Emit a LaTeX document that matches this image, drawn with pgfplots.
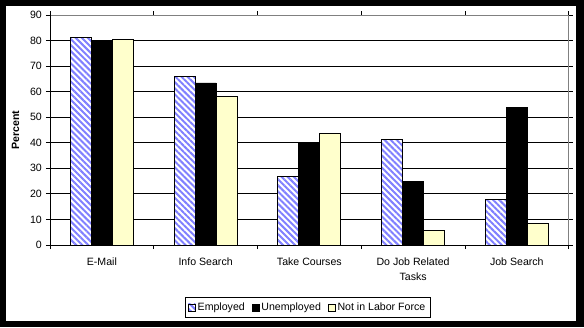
\documentclass[border=0pt]{standalone}
\usepackage{pgfplots}
\pgfplotsset{compat=1.18}
\usetikzlibrary{patterns.meta}
\usepackage{fontspec}
\setmainfont{Liberation Sans}
\definecolor{hatchblue}{RGB}{128,128,255}
\definecolor{paleyellow}{RGB}{255,255,204}
\definecolor{boxgray}{RGB}{128,128,128}
\begin{document}
\fontsize{10.6bp}{12bp}\selectfont
\begin{tikzpicture}[x=1bp,y=1bp]
\fill[black] (-50,245) rectangle (534,-82);
\fill[white] (-44,239) rectangle (526,-76);
\useasboundingbox (-50,245) rectangle (534,-82);
\begin{axis}[
  at={(0,0)}, anchor=south west,
  width=518.7bp, height=230bp, scale only axis,
  xmin=-0.5, xmax=4.5, ymin=0, ymax=90,
  clip=false,
  ybar=0pt, bar width=21bp,
  xtick={0,...,4},
  xticklabels={E-Mail, Info Search, Take Courses, {Do Job Related\\Tasks}, Job Search},
  major x tick style={draw=none},
  minor xtick={-0.5,0.5,...,4.5},
  ytick={0,10,...,90},
  ymajorgrids, major grid style={black, line width=0.8bp},
  tick align=outside, major tick length=4bp, minor tick length=4bp,
  every tick/.style={black, line width=0.8bp},
  axis line style={draw=none},
  xticklabel style={anchor=north, inner sep=0pt, yshift=-8.5bp, align=center, font=\fontsize{10.6bp}{15bp}\selectfont},
  yticklabel style={anchor=east, inner sep=0pt, xshift=-4bp, font=\fontsize{10.6bp}{12bp}\selectfont},
  /pgf/number format/assume math mode=true,
  ylabel={Percent},
  every axis y label/.style={at={(axis description cs:-0.0665,0.5)}, rotate=90, anchor=center, font=\fontsize{10.6bp}{12bp}\selectfont\bfseries},
  legend columns=3,
  legend style={at={(axis description cs:0.4968,-0.2717)}, anchor=center, draw=black, line width=0.8bp,
    font=\fontsize{10.6bp}{12bp}\selectfont, inner xsep=3bp, inner ysep=3.5bp,
    /tikz/every even column/.append style={column sep=5bp}},
  legend image code/.code={\draw[#1, line width=0.6bp] (0bp,-3.5bp) rectangle (7bp,3.5bp);},
]
\addplot[draw=black, line width=0.8bp, preaction={fill=white},
  pattern={Lines[angle=-45,distance=4.3bp,line width=2bp]}, pattern color=hatchblue]
  coordinates {(0,81.3) (1,66.0) (2,27.0) (3,41.3) (4,17.9)};
\addlegendentry{Employed}
\addplot[draw=black, line width=0.8bp, fill=black]
  coordinates {(0,79.8) (1,63.4) (2,39.8) (3,25.0) (4,54.0)};
\addlegendentry{Unemployed}
\addplot[draw=black, line width=0.8bp, fill=paleyellow]
  coordinates {(0,80.5) (1,58.2) (2,43.7) (3,5.7) (4,8.6)};
\addlegendentry{Not in Labor Force}
\draw[boxgray, line width=0.8bp] (rel axis cs:0,1) -- (rel axis cs:1,1) -- (rel axis cs:1,0);
\draw[black, line width=0.8bp] (rel axis cs:0,1) -- (rel axis cs:0,0) -- (rel axis cs:1,0);
\end{axis}
\end{tikzpicture}
\end{document}
